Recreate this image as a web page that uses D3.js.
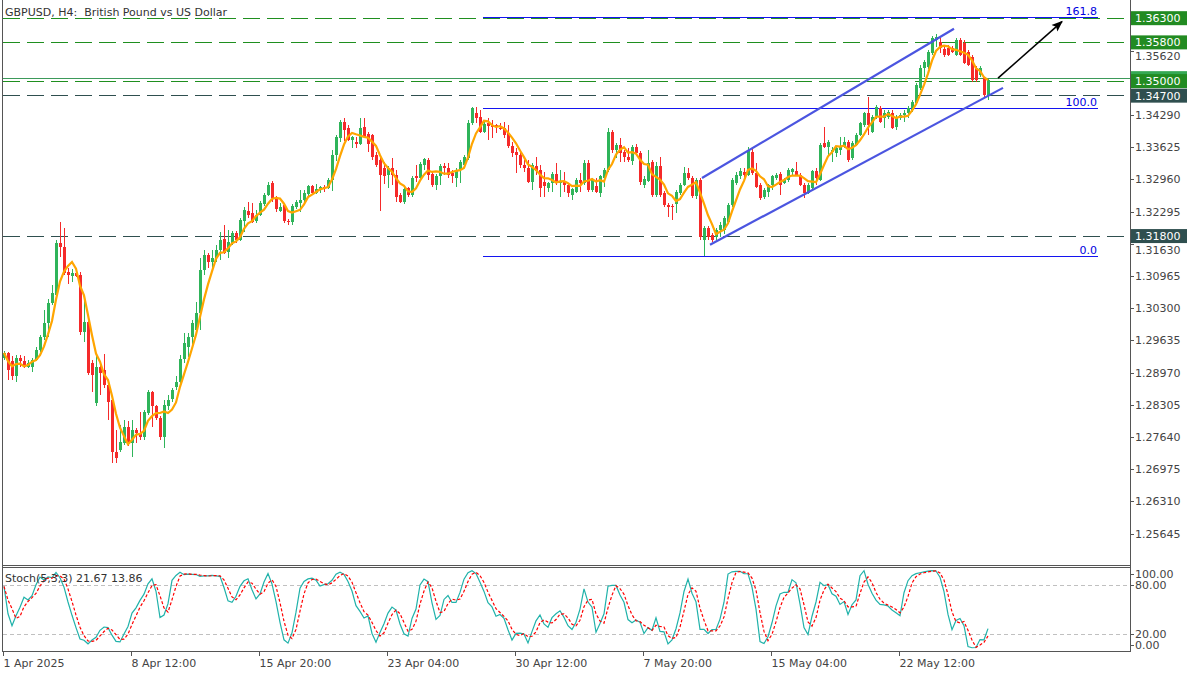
<!DOCTYPE html>
<html><head><meta charset="utf-8">
<script src="https://cdn.jsdelivr.net/npm/d3@7/dist/d3.min.js"></script>
<style>
body{margin:0;background:#fff}
svg{display:block}
text{font-family:"DejaVu Sans",Verdana,sans-serif;font-size:11px;white-space:pre}
</style>
</head><body>
<svg id="c" width="1200" height="675"></svg>
<script>
// ---------------- DATA ----------------
const title = "GBPUSD, H4:  British Pound vs US Dollar";
const stochLabel = "Stoch(5,3,3) 21.67 13.86";

const open = [1.2928,1.2938,1.2920,1.2889,1.2928,1.2920,1.2909,1.2909,1.2924,1.2944,1.2971,1.3000,1.3041,1.3058,1.3165,1.3157,1.3105,1.3097,1.3103,1.3099,1.2981,1.3002,1.2917,1.2835,1.2909,1.2903,1.2872,1.2841,1.2732,1.2738,1.2752,1.2785,1.2752,1.2779,1.2773,1.2763,1.2814,1.2856,1.2827,1.2804,1.2765,1.2827,1.2843,1.2868,1.2878,1.2926,1.2950,1.2971,1.2986,1.3021,1.3109,1.3140,1.3126,1.3134,1.3151,1.3173,1.3147,1.3165,1.3186,1.3171,1.3211,1.3231,1.3227,1.3211,1.3223,1.3246,1.3264,1.3289,1.3260,1.3231,1.3244,1.3211,1.3209,1.3240,1.3248,1.3254,1.3266,1.3283,1.3268,1.3275,1.3281,1.3279,1.3295,1.3347,1.3382,1.3415,1.3403,1.3378,1.3374,1.3370,1.3405,1.3390,1.3388,1.3347,1.3337,1.3320,1.3306,1.3320,1.3306,1.3264,1.3250,1.3279,1.3264,1.3304,1.3299,1.3326,1.3337,1.3308,1.3285,1.3304,1.3324,1.3320,1.3310,1.3299,1.3316,1.3326,1.3341,1.3413,1.3434,1.3425,1.3394,1.3413,1.3409,1.3409,1.3403,1.3403,1.3392,1.3366,1.3353,1.3347,1.3326,1.3320,1.3291,1.3324,1.3316,1.3291,1.3279,1.3289,1.3308,1.3289,1.3291,1.3285,1.3264,1.3270,1.3295,1.3289,1.3330,1.3275,1.3283,1.3268,1.3299,1.3316,1.3394,1.3357,1.3368,1.3353,1.3343,1.3335,1.3363,1.3351,1.3285,1.3293,1.3332,1.3264,1.3324,1.3268,1.3244,1.3242,1.3246,1.3268,1.3285,1.3310,1.3299,1.3262,1.3295,1.3171,1.3196,1.3182,1.3178,1.3192,1.3192,1.3209,1.3244,1.3289,1.3302,1.3312,1.3306,1.3353,1.3310,1.3285,1.3260,1.3270,1.3285,1.3299,1.3308,1.3289,1.3295,1.3312,1.3314,1.3306,1.3285,1.3268,1.3279,1.3314,1.3295,1.3372,1.3363,1.3353,1.3351,1.3357,1.3363,1.3374,1.3341,1.3368,1.3388,1.3409,1.3434,1.3394,1.3425,1.3444,1.3423,1.3425,1.3434,1.3405,1.3423,1.3430,1.3434,1.3440,1.3454,1.3485,1.3527,1.3529,1.3558,1.3584,1.3580,1.3566,1.3568,1.3568,1.3553,1.3584,1.3578,1.3560,1.3549,1.3527,1.3512,1.3506,1.3471];
const high = [1.2942,1.2940,1.2932,1.2934,1.2934,1.2932,1.2924,1.2928,1.2950,1.2975,1.3027,1.3048,1.3078,1.3171,1.3209,1.3196,1.3112,1.3110,1.3110,1.3105,1.3052,1.3006,1.2924,1.2934,1.2913,1.2936,1.2882,1.2851,1.2779,1.2789,1.2800,1.2798,1.2800,1.2783,1.2816,1.2820,1.2862,1.2860,1.2831,1.2808,1.2841,1.2851,1.2866,1.2890,1.2934,1.2979,1.2979,1.3006,1.3043,1.3134,1.3151,1.3145,1.3151,1.3161,1.3188,1.3202,1.3192,1.3190,1.3190,1.3217,1.3238,1.3250,1.3248,1.3233,1.3252,1.3268,1.3291,1.3293,1.3262,1.3248,1.3248,1.3215,1.3246,1.3254,1.3275,1.3275,1.3285,1.3285,1.3287,1.3283,1.3285,1.3299,1.3357,1.3388,1.3419,1.3423,1.3409,1.3386,1.3384,1.3423,1.3423,1.3394,1.3390,1.3353,1.3341,1.3332,1.3324,1.3341,1.3316,1.3268,1.3283,1.3281,1.3304,1.3326,1.3332,1.3341,1.3341,1.3314,1.3308,1.3328,1.3330,1.3330,1.3316,1.3320,1.3337,1.3347,1.3419,1.3446,1.3446,1.3440,1.3415,1.3423,1.3419,1.3411,1.3413,1.3415,1.3409,1.3374,1.3361,1.3357,1.3337,1.3337,1.3330,1.3343,1.3326,1.3312,1.3291,1.3312,1.3330,1.3316,1.3312,1.3289,1.3279,1.3299,1.3310,1.3337,1.3337,1.3299,1.3299,1.3306,1.3320,1.3403,1.3399,1.3372,1.3382,1.3357,1.3361,1.3368,1.3370,1.3355,1.3302,1.3357,1.3337,1.3332,1.3343,1.3273,1.3248,1.3246,1.3275,1.3289,1.3322,1.3320,1.3304,1.3299,1.3299,1.3200,1.3200,1.3186,1.3196,1.3209,1.3221,1.3248,1.3299,1.3312,1.3320,1.3320,1.3363,1.3363,1.3330,1.3289,1.3279,1.3287,1.3306,1.3310,1.3312,1.3299,1.3320,1.3320,1.3332,1.3310,1.3289,1.3289,1.3316,1.3320,1.3372,1.3405,1.3378,1.3363,1.3365,1.3384,1.3384,1.3378,1.3376,1.3392,1.3415,1.3436,1.3467,1.3430,1.3450,1.3448,1.3440,1.3440,1.3440,1.3430,1.3434,1.3440,1.3448,1.3460,1.3496,1.3533,1.3543,1.3564,1.3593,1.3597,1.3589,1.3570,1.3574,1.3572,1.3589,1.3589,1.3584,1.3564,1.3553,1.3531,1.3531,1.3508,1.3504];
const low = [1.2924,1.2882,1.2882,1.2878,1.2909,1.2907,1.2907,1.2899,1.2920,1.2940,1.2965,1.2971,1.3037,1.3054,1.3136,1.3099,1.3079,1.3085,1.3095,1.2975,1.2961,1.2893,1.2856,1.2827,1.2851,1.2866,1.2800,1.2711,1.2711,1.2734,1.2748,1.2746,1.2723,1.2752,1.2758,1.2758,1.2810,1.2785,1.2800,1.2758,1.2742,1.2820,1.2837,1.2862,1.2872,1.2917,1.2930,1.2950,1.2975,1.2986,1.3099,1.3114,1.3109,1.3126,1.3130,1.3142,1.3134,1.3161,1.3165,1.3169,1.3188,1.3217,1.3206,1.3206,1.3221,1.3242,1.3262,1.3250,1.3229,1.3229,1.3206,1.3202,1.3202,1.3235,1.3229,1.3250,1.3262,1.3266,1.3266,1.3268,1.3270,1.3277,1.3273,1.3333,1.3374,1.3376,1.3376,1.3361,1.3361,1.3368,1.3382,1.3353,1.3337,1.3322,1.3231,1.3287,1.3279,1.3285,1.3250,1.3248,1.3246,1.3260,1.3260,1.3291,1.3295,1.3316,1.3295,1.3281,1.3275,1.3285,1.3306,1.3299,1.3289,1.3281,1.3289,1.3322,1.3337,1.3409,1.3413,1.3392,1.3392,1.3378,1.3382,1.3392,1.3397,1.3382,1.3361,1.3343,1.3310,1.3320,1.3312,1.3289,1.3275,1.3306,1.3260,1.3260,1.3271,1.3271,1.3285,1.3260,1.3271,1.3260,1.3254,1.3268,1.3270,1.3285,1.3270,1.3270,1.3268,1.3260,1.3281,1.3312,1.3351,1.3341,1.3332,1.3332,1.3332,1.3326,1.3347,1.3285,1.3279,1.3291,1.3260,1.3260,1.3260,1.3240,1.3219,1.3213,1.3227,1.3264,1.3283,1.3295,1.3258,1.3256,1.3171,1.3138,1.3171,1.3167,1.3171,1.3178,1.3184,1.3204,1.3240,1.3285,1.3297,1.3299,1.3302,1.3306,1.3279,1.3254,1.3256,1.3260,1.3275,1.3295,1.3264,1.3287,1.3291,1.3306,1.3302,1.3283,1.3258,1.3266,1.3275,1.3285,1.3293,1.3361,1.3343,1.3332,1.3343,1.3347,1.3361,1.3332,1.3337,1.3365,1.3386,1.3405,1.3388,1.3392,1.3421,1.3413,1.3403,1.3421,1.3401,1.3399,1.3419,1.3415,1.3423,1.3436,1.3450,1.3481,1.3508,1.3525,1.3553,1.3570,1.3558,1.3549,1.3551,1.3558,1.3551,1.3551,1.3535,1.3531,1.3498,1.3498,1.3508,1.3467,1.3461];
const close = [1.2938,1.2903,1.2889,1.2928,1.2920,1.2909,1.2917,1.2924,1.2944,1.2971,1.3000,1.3041,1.3062,1.3165,1.3157,1.3103,1.3099,1.3103,1.3097,1.2981,1.3002,1.2897,1.2893,1.2909,1.2897,1.2872,1.2837,1.2732,1.2721,1.2754,1.2785,1.2752,1.2779,1.2773,1.2763,1.2816,1.2856,1.2827,1.2804,1.2765,1.2831,1.2841,1.2862,1.2878,1.2926,1.2959,1.2971,1.3000,1.3021,1.3109,1.3140,1.3126,1.3134,1.3151,1.3171,1.3145,1.3167,1.3186,1.3171,1.3213,1.3233,1.3223,1.3209,1.3223,1.3248,1.3264,1.3285,1.3258,1.3235,1.3240,1.3211,1.3209,1.3242,1.3250,1.3254,1.3268,1.3283,1.3268,1.3277,1.3281,1.3279,1.3295,1.3347,1.3384,1.3415,1.3399,1.3378,1.3384,1.3370,1.3403,1.3384,1.3370,1.3343,1.3326,1.3306,1.3302,1.3320,1.3306,1.3260,1.3250,1.3277,1.3264,1.3299,1.3299,1.3328,1.3339,1.3306,1.3285,1.3304,1.3324,1.3320,1.3306,1.3302,1.3316,1.3332,1.3343,1.3413,1.3444,1.3423,1.3394,1.3411,1.3407,1.3405,1.3405,1.3401,1.3388,1.3366,1.3351,1.3347,1.3326,1.3320,1.3291,1.3326,1.3314,1.3279,1.3283,1.3289,1.3308,1.3289,1.3291,1.3285,1.3268,1.3277,1.3295,1.3289,1.3330,1.3275,1.3295,1.3270,1.3302,1.3316,1.3394,1.3357,1.3368,1.3351,1.3343,1.3337,1.3363,1.3351,1.3291,1.3297,1.3330,1.3264,1.3324,1.3264,1.3244,1.3240,1.3238,1.3270,1.3285,1.3310,1.3299,1.3262,1.3295,1.3178,1.3196,1.3178,1.3171,1.3192,1.3202,1.3217,1.3244,1.3295,1.3306,1.3314,1.3306,1.3357,1.3310,1.3281,1.3258,1.3275,1.3285,1.3302,1.3306,1.3285,1.3295,1.3316,1.3318,1.3306,1.3285,1.3268,1.3285,1.3314,1.3299,1.3368,1.3363,1.3374,1.3357,1.3361,1.3363,1.3374,1.3337,1.3372,1.3388,1.3413,1.3434,1.3409,1.3425,1.3446,1.3415,1.3434,1.3436,1.3403,1.3425,1.3430,1.3434,1.3444,1.3456,1.3491,1.3527,1.3539,1.3560,1.3589,1.3591,1.3568,1.3553,1.3553,1.3560,1.3584,1.3553,1.3537,1.3533,1.3502,1.3502,1.3527,1.3471,1.3502];

const xTickLabels = ["1 Apr 2025","8 Apr 12:00","15 Apr 20:00","23 Apr 04:00","30 Apr 12:00","7 May 20:00","15 May 04:00","22 May 12:00"];
const xTickBars   = [0,32,64,96,128,160,192,224];
const yTicks = [1.35620,1.34290,1.33625,1.32960,1.32295,1.31630,1.30965,1.30300,1.29635,1.28970,1.28305,1.27640,1.26975,1.26310,1.25645];
const stochTicks = [100,80,20,0];
const stochLevels = [80,20];

const levelPrices = [1.3630,1.3580,1.3500,1.3470,1.3180];
const levelKinds  = ["support","support","support","resist","resist"];

const fibLow = 1.3138, fibHigh = 1.3443;
const fibLevels = [0,100,161.8];
const fibBars = [119.75,273.5];

const channelUpper = [[174.5,1.3299],[237.5,1.3607]];
const channelLower = [[176.5,1.3161],[249.75,1.3485]];
const arrowPath = [[248.5,1.3505],[264.5,1.3622]];

const maPeriod = 5, kPeriod = 5, dPeriod = 3, slowing = 3;

// ---------------- LAYOUT ----------------
const plotL = 3, plotR = 1130;
const mainT = 2, mainB = 565;
const stT = 568, stB = 651;

const svg = d3.select("#c");
const x = d3.scaleLinear().domain([-1, 281.5]).range([0, plotR]);
const y = d3.scaleLinear().domain([1.249963, 1.366238]).range([mainB, mainT]);
const ys = d3.scaleLinear().domain([0, 100]).range([stB, stT]);

const GREEN_C = "#2fb45a", RED_C = "#f52a2a";
const LVL_GREEN = "#1f8f1f", LVL_DARK = "#2f4f4f";

const defs = svg.append("defs");
defs.append("clipPath").attr("id","clipMain").append("rect")
  .attr("x",plotL).attr("y",0).attr("width",plotR-plotL).attr("height",mainB);
defs.append("clipPath").attr("id","clipSt").append("rect")
  .attr("x",plotL).attr("y",stT).attr("width",plotR-plotL).attr("height",stB-stT);
defs.append("marker").attr("id","ah").attr("viewBox","0 0 10 10").attr("refX",9).attr("refY",5)
  .attr("markerWidth",7).attr("markerHeight",7).attr("orient","auto")
  .append("path").attr("d","M0,1 L10,5 L0,9 L2,5 Z").attr("fill","#000");

const gMain = svg.append("g").attr("clip-path","url(#clipMain)");
const gSt = svg.append("g").attr("clip-path","url(#clipSt)");

const idx = d3.range(close.length);

// horizontal levels
levelPrices.forEach((p,i)=>{
  gMain.append("line").attr("x1",plotL).attr("x2",plotR)
    .attr("y1",Math.round(y(p))+0.5).attr("y2",Math.round(y(p))+0.5)
    .attr("stroke", levelKinds[i]==="support"?LVL_GREEN:LVL_DARK)
    .attr("stroke-width",1.2).attr("stroke-dasharray","17,7");
});
// bid line (last close)
const lastClose = close[close.length-1];
gMain.append("line").attr("x1",plotL).attr("x2",plotR)
  .attr("y1",Math.round(y(lastClose))-1.5).attr("y2",Math.round(y(lastClose))-1.5)
  .attr("stroke","#3d9a5a").attr("stroke-width",1);

// fibo
fibLevels.forEach(l=>{
  const p = fibLow + (fibHigh-fibLow)*l/100;
  const yy = Math.round(y(p))+0.5;
  gMain.append("line").attr("x1",x(fibBars[0])).attr("x2",x(fibBars[1]))
    .attr("y1",yy).attr("y2",yy).attr("stroke","#1414f0").attr("stroke-width",1)
    .attr("shape-rendering","crispEdges");
  gMain.append("text").attr("x",x(fibBars[1])-1).attr("y",yy-3)
    .attr("text-anchor","end").attr("fill","#0000e0").text(l===0?"0.0":l.toFixed(1));
});

// candles
const cg = gMain.append("g").attr("shape-rendering","crispEdges");
cg.selectAll("rect.w").data(idx).join("rect")
  .attr("x",i=>Math.round(x(i))).attr("width",1)
  .attr("y",i=>y(high[i])).attr("height",i=>Math.max(1,y(low[i])-y(high[i])))
  .attr("fill",i=>close[i]>=open[i]?GREEN_C:RED_C);
cg.selectAll("rect.b").data(idx).join("rect")
  .attr("x",i=>Math.round(x(i))-1).attr("width",3)
  .attr("y",i=>y(Math.max(open[i],close[i])))
  .attr("height",i=>Math.max(1,Math.abs(y(open[i])-y(close[i]))))
  .attr("fill",i=>close[i]>=open[i]?GREEN_C:RED_C);

// moving average (SMA of close)
const ma = idx.map(i=>d3.mean(close.slice(Math.max(0,i-maPeriod+1),i+1)));
gMain.append("path").datum(idx)
  .attr("d",d3.line().x(i=>x(i)).y(i=>y(ma[i])))
  .attr("fill","none").attr("stroke","#ffa500").attr("stroke-width",2.2);

// channel
[channelUpper,channelLower].forEach(c=>{
  gMain.append("line").attr("x1",x(c[0][0])).attr("y1",y(c[0][1]))
    .attr("x2",x(c[1][0])).attr("y2",y(c[1][1]))
    .attr("stroke","#4b55e0").attr("stroke-width",2.2);
});
// arrow
gMain.append("line").attr("x1",x(arrowPath[0][0])).attr("y1",y(arrowPath[0][1]))
  .attr("x2",x(arrowPath[1][0])).attr("y2",y(arrowPath[1][1]))
  .attr("stroke","#000").attr("stroke-width",1.6).attr("marker-end","url(#ah)");

// stochastic
const raw = idx.map(i=>{
  const a=Math.max(0,i-kPeriod+1);
  const hh=d3.max(high.slice(a,i+1)), ll=d3.min(low.slice(a,i+1));
  return {num:close[i]-ll, den:hh-ll};
});
const kLine = idx.map(i=>{
  const s=raw.slice(Math.max(0,i-slowing+1),i+1);
  const den=d3.sum(s,d=>d.den);
  return den>0?100*d3.sum(s,d=>d.num)/den:50;
});
const dLine = idx.map(i=>d3.mean(kLine.slice(Math.max(0,i-dPeriod+1),i+1)));

stochLevels.forEach(l=>{
  gSt.append("line").attr("x1",plotL).attr("x2",plotR)
    .attr("y1",Math.round(ys(l))+0.5).attr("y2",Math.round(ys(l))+0.5)
    .attr("stroke","#c0c0c0").attr("stroke-dasharray","4,3");
});
gSt.append("path").datum(idx).attr("d",d3.line().x(i=>x(i)).y(i=>ys(kLine[i])))
  .attr("fill","none").attr("stroke","#20b2aa").attr("stroke-width",1.2);
gSt.append("path").datum(idx).attr("d",d3.line().x(i=>x(i)).y(i=>ys(dLine[i])))
  .attr("fill","none").attr("stroke","#ff0000").attr("stroke-width",1.2).attr("stroke-dasharray","3,2");

// ---------------- FRAME & AXES ----------------
const fr = svg.append("g").attr("stroke","#555").attr("shape-rendering","crispEdges");
fr.append("line").attr("x1",2.5).attr("x2",2.5).attr("y1",0).attr("y2",stB);
fr.append("line").attr("x1",plotR+0.5).attr("x2",plotR+0.5).attr("y1",0).attr("y2",stB+1);
fr.append("line").attr("x1",2).attr("x2",plotR).attr("y1",mainB+0.5).attr("y2",mainB+0.5);
fr.append("line").attr("x1",2).attr("x2",plotR).attr("y1",stT-0.5).attr("y2",stT-0.5);
fr.append("line").attr("x1",2).attr("x2",plotR+1).attr("y1",stB+0.5).attr("y2",stB+0.5);

// price axis ticks (labels nudged below any level box that would hide them)
const ax = svg.append("g");
const boxYs = levelPrices.map(p=>y(p));
yTicks.forEach(t=>{
  const yy=Math.round(y(t))+0.5;
  ax.append("line").attr("x1",plotR).attr("x2",plotR+4).attr("y1",yy).attr("y2",yy).attr("stroke","#555");
  let ly = yy;
  boxYs.forEach(b=>{ if (Math.abs(ly-b) < 13.5) ly = b + 14; });
  ax.append("text").attr("x",plotR+5).attr("y",ly).attr("dy","0.36em").attr("fill","#444").text(t.toFixed(5));
});

// level price boxes
const boxColor = {support:"#228b22", resist:"#2f4f4f"};
const byy = y(lastClose)-1.5;
ax.append("rect").attr("x",plotR+1).attr("y",byy-7).attr("width",56).attr("height",14).attr("fill","#35a853");
levelPrices.forEach((p,i)=>{
  const yy=y(p);
  ax.append("rect").attr("x",plotR+1).attr("y",yy-6.5).attr("width",56).attr("height",14)
    .attr("fill",boxColor[levelKinds[i]]);
  ax.append("text").attr("x",plotR+5).attr("y",yy+0.5).attr("dy","0.36em").attr("fill","#fff").text(p.toFixed(5));
});

// stoch axis
const stLabelY = {100:stT+6, 80:ys(80), 20:ys(20), 0:stB-6};
stochTicks.forEach(t=>{
  const yy=Math.round(stLabelY[t])+0.5;
  ax.append("line").attr("x1",plotR).attr("x2",plotR+4).attr("y1",yy).attr("y2",yy).attr("stroke","#555");
  ax.append("text").attr("x",plotR+5).attr("y",yy).attr("dy","0.36em").attr("fill","#444").text(t.toFixed(2));
});

// time axis
xTickBars.forEach((b,i)=>{
  const xx=Math.round(x(b))-0.5;
  ax.append("line").attr("x1",xx).attr("x2",xx).attr("y1",stB).attr("y2",stB+5).attr("stroke","#555");
  ax.append("text").attr("x",xx).attr("y",667).attr("fill","#444").text(xTickLabels[i]);
});

// titles
svg.append("text").attr("x",5).attr("y",16).attr("fill","#333").attr("xml:space","preserve").text(title);
svg.append("text").attr("x",5).attr("y",582).attr("fill","#333").text(stochLabel);
</script>
</body></html>
